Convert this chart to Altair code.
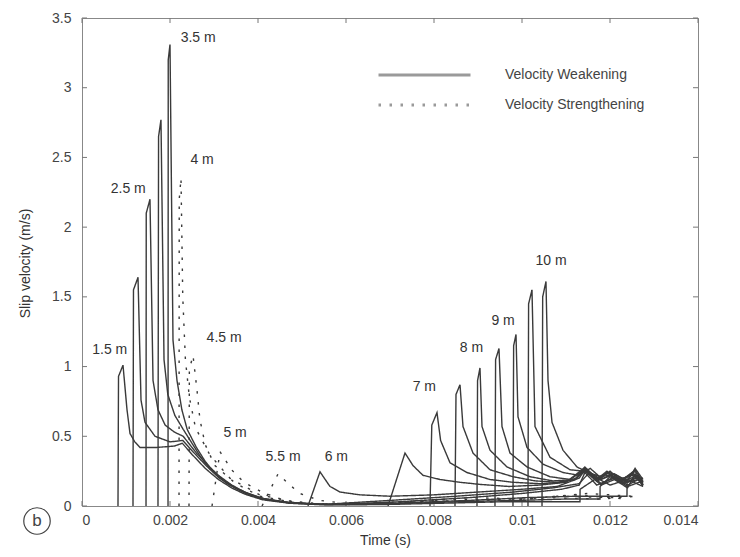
import altair as alt
import pandas as pd

# ---------------- data ----------------
X_TICKS = [0, 0.002, 0.004, 0.006, 0.008, 0.01, 0.012, 0.014]
Y_TICKS = [0, 0.5, 1, 1.5, 2, 2.5, 3, 3.5]

WEAK = "Velocity Weakening"
STRONG = "Velocity Strengthening"

# velocity-weakening curves (solid)
t_15 = [0.000818, 0.00083, 0.000932, 0.001023, 0.001091, 0.0012, 0.001318, 0.0017, 0.0021, 0.00228, 0.0025, 0.0028, 0.0031, 0.0034, 0.0037, 0.0041, 0.0047, 0.0055, 0.0068, 0.0082, 0.0095, 0.0106, 0.011318, 0.01132, 0.0117, 0.0120, 0.0124, 0.01275]
v_15 = [0, 0.93, 1.01, 0.69, 0.52, 0.46, 0.42, 0.42, 0.43, 0.45, 0.37, 0.27, 0.19, 0.13, 0.085, 0.045, 0.02, 0.008, 0.01, 0.02, 0.03, 0.03, 0.03, 0.12, 0.2, 0.15, 0.19, 0.14]

t_20 = [0.001159, 0.00117, 0.001273, 0.001341, 0.001432, 0.001659, 0.0020, 0.00229, 0.00252, 0.00282, 0.00312, 0.00342, 0.00372, 0.00412, 0.00472, 0.0056, 0.007, 0.0085, 0.0099, 0.011, 0.011773, 0.011775, 0.0120, 0.0123, 0.0126, 0.01275]
v_20 = [0, 1.55, 1.64, 0.76, 0.6, 0.5, 0.46, 0.47, 0.39, 0.29, 0.2, 0.14, 0.09, 0.05, 0.022, 0.01, 0.015, 0.03, 0.04, 0.05, 0.05, 0.14, 0.21, 0.16, 0.2, 0.15]

t_25 = [0.001455, 0.00146, 0.001545, 0.001614, 0.001727, 0.00189, 0.0021, 0.0023, 0.0026, 0.0029, 0.0031, 0.0034, 0.0037, 0.0041, 0.0047, 0.0055, 0.0071, 0.0088, 0.0101, 0.0112, 0.012386, 0.012388, 0.01275]
v_25 = [0, 2.1, 2.2, 0.9, 0.69, 0.58, 0.53, 0.5, 0.38, 0.28, 0.22, 0.15, 0.1, 0.055, 0.025, 0.012, 0.02, 0.04, 0.06, 0.07, 0.07, 0.17, 0.2]

t_30 = [0.001727, 0.00174, 0.001795, 0.001864, 0.00195, 0.00211, 0.0023, 0.0025, 0.0027, 0.0029, 0.0032, 0.0035, 0.0038, 0.0042, 0.0048, 0.0056, 0.0072, 0.0088, 0.0100, 0.0109, 0.0113, 0.01143, 0.0117, 0.0121, 0.0124, 0.01275]
v_30 = [0, 2.65, 2.77, 1.05, 0.8, 0.65, 0.55, 0.45, 0.35, 0.27, 0.19, 0.13, 0.085, 0.045, 0.02, 0.01, 0.03, 0.06, 0.09, 0.12, 0.15, 0.24, 0.15, 0.2, 0.14, 0.18]

t_35 = [0.001955, 0.00196, 0.002, 0.002068, 0.002159, 0.00227, 0.00239, 0.0026, 0.0028, 0.003, 0.0033, 0.0036, 0.004, 0.0046, 0.0055, 0.007, 0.0085, 0.0098, 0.0107, 0.0113, 0.0115, 0.0118, 0.0121, 0.0124, 0.01257, 0.01275]
v_35 = [0, 3.2, 3.31, 1.19, 0.9, 0.69, 0.55, 0.42, 0.32, 0.24, 0.16, 0.11, 0.06, 0.028, 0.012, 0.04, 0.07, 0.1, 0.13, 0.16, 0.23, 0.15, 0.19, 0.13, 0.23, 0.14]

t_60 = [0.005136, 0.005409, 0.005636, 0.005864, 0.006318, 0.007, 0.008, 0.009, 0.0100, 0.0108, 0.0113, 0.01143, 0.0118, 0.0121, 0.0124, 0.0127]
v_60 = [0, 0.245, 0.14, 0.1, 0.08, 0.07, 0.08, 0.1, 0.12, 0.14, 0.2, 0.26, 0.16, 0.21, 0.15, 0.2]

t_65 = [0.006955, 0.007341, 0.007523, 0.00775, 0.008136, 0.008591, 0.009045, 0.0097, 0.0104, 0.011, 0.0114, 0.0117, 0.0120, 0.0123, 0.0126, 0.01275]
v_65 = [0, 0.38, 0.29, 0.22, 0.19, 0.17, 0.155, 0.14, 0.15, 0.17, 0.27, 0.18, 0.25, 0.17, 0.22, 0.15]

t_70 = [0.007909, 0.00795, 0.008068, 0.00815, 0.008364, 0.00875, 0.009273, 0.0098, 0.0104, 0.0109, 0.01125, 0.01143, 0.0117, 0.0120, 0.0123, 0.01257, 0.01275]
v_70 = [0, 0.58, 0.67, 0.47, 0.31, 0.24, 0.19, 0.17, 0.16, 0.17, 0.2, 0.27, 0.18, 0.22, 0.16, 0.25, 0.15]

t_75 = [0.008477, 0.0085, 0.008591, 0.008659, 0.008886, 0.009273, 0.009795, 0.0103, 0.0108, 0.0112, 0.01145, 0.0118, 0.0121, 0.0124, 0.01265, 0.01275]
v_75 = [0, 0.8, 0.87, 0.57, 0.38, 0.26, 0.21, 0.18, 0.17, 0.19, 0.26, 0.19, 0.23, 0.17, 0.22, 0.16]

t_80 = [0.008977, 0.00899, 0.009045, 0.009091, 0.009273, 0.009659, 0.010182, 0.0107, 0.0112, 0.01143, 0.0117, 0.01193, 0.0122, 0.0125, 0.01275]
v_80 = [0, 0.9, 0.99, 0.57, 0.4, 0.28, 0.21, 0.18, 0.19, 0.28, 0.19, 0.25, 0.17, 0.24, 0.17]

t_85 = [0.009386, 0.0094, 0.009477, 0.009545, 0.009727, 0.010114, 0.010636, 0.0111, 0.01145, 0.0117, 0.0120, 0.0123, 0.01257, 0.01275]
v_85 = [0, 1.05, 1.13, 0.57, 0.38, 0.28, 0.21, 0.19, 0.27, 0.2, 0.24, 0.18, 0.26, 0.17]

t_90 = [0.009795, 0.00981, 0.009864, 0.009909, 0.010114, 0.010477, 0.010932, 0.0113, 0.01155, 0.0118, 0.01193, 0.0122, 0.0125, 0.01275]
v_90 = [0, 1.15, 1.23, 0.64, 0.42, 0.3, 0.24, 0.22, 0.27, 0.2, 0.24, 0.18, 0.23, 0.18]

t_95 = [0.010136, 0.01015, 0.010227, 0.010295, 0.010636, 0.011091, 0.0114, 0.0117, 0.01195, 0.0122, 0.0125, 0.01275]
v_95 = [0, 1.45, 1.55, 0.57, 0.35, 0.26, 0.25, 0.2, 0.24, 0.19, 0.22, 0.18]

t_100 = [0.010455, 0.01047, 0.010545, 0.010591, 0.010682, 0.010932, 0.01125, 0.0115, 0.0118, 0.0121, 0.0124, 0.01257, 0.01275]
v_100 = [0, 1.5, 1.61, 0.9, 0.6, 0.4, 0.28, 0.24, 0.21, 0.23, 0.18, 0.27, 0.19]

# velocity-strengthening curves (dotted)
t_40 = [0.002205, 0.00221, 0.00225, 0.00229, 0.00235, 0.00244, 0.00258, 0.0029, 0.00336, 0.00404, 0.00495, 0.006, 0.0075, 0.009, 0.0105, 0.0118, 0.0126]
v_40 = [0, 2.2, 2.35, 1.5, 1.05, 0.78, 0.56, 0.37, 0.2, 0.08, 0.02, 0.01, 0.03, 0.04, 0.06, 0.05, 0.07]

t_45 = [0.002432, 0.00244, 0.002523, 0.002614, 0.00268, 0.0028, 0.00302, 0.00348, 0.00404, 0.0049, 0.0062, 0.0078, 0.0093, 0.0108, 0.0122]
v_45 = [0, 0.98, 1.08, 0.83, 0.62, 0.44, 0.29, 0.165, 0.07, 0.02, 0.01, 0.04, 0.03, 0.07, 0.06]

t_50 = [0.002955, 0.003136, 0.0034, 0.00368, 0.00409, 0.0046, 0.0054, 0.0068, 0.0083, 0.0097, 0.0112, 0.0124]
v_50 = [0, 0.39, 0.26, 0.17, 0.1, 0.04, 0.015, 0.02, 0.05, 0.04, 0.08, 0.05]

t_55 = [0.004091, 0.004455, 0.004727, 0.00495, 0.0054, 0.0061, 0.0072, 0.0088, 0.0101, 0.0115, 0.0125]
v_55 = [0, 0.23, 0.15, 0.09, 0.04, 0.015, 0.02, 0.06, 0.05, 0.09, 0.07]

SERIES = [
    ("1.5 m", WEAK, t_15, v_15), ("2 m", WEAK, t_20, v_20), ("2.5 m", WEAK, t_25, v_25),
    ("3 m", WEAK, t_30, v_30), ("3.5 m", WEAK, t_35, v_35),
    ("4 m", STRONG, t_40, v_40), ("4.5 m", STRONG, t_45, v_45),
    ("5 m", STRONG, t_50, v_50), ("5.5 m", STRONG, t_55, v_55),
    ("6 m", WEAK, t_60, v_60), ("6.5 m", WEAK, t_65, v_65), ("7 m", WEAK, t_70, v_70),
    ("7.5 m", WEAK, t_75, v_75), ("8 m", WEAK, t_80, v_80), ("8.5 m", WEAK, t_85, v_85),
    ("9 m", WEAK, t_90, v_90), ("9.5 m", WEAK, t_95, v_95), ("10 m", WEAK, t_100, v_100),
]

LABELS = ["1.5 m", "2.5 m", "3.5 m", "4 m", "4.5 m", "5 m", "5.5 m", "6 m", "7 m", "8 m", "9 m", "10 m"]
LABEL_T = [0.00063, 0.00105, 0.00264, 0.00273, 0.00323, 0.00348, 0.00457, 0.00578, 0.00778, 0.00885, 0.00957, 0.01066]
LABEL_V = [1.12, 2.27, 3.36, 2.48, 1.205, 0.52, 0.35, 0.35, 0.85, 1.13, 1.33, 1.76]

# ---------------- tables ----------------
rows = []
for name, kind, ts, vs in SERIES:
    for i, (t, v) in enumerate(zip(ts, vs)):
        rows.append({"curve": name, "kind": kind, "t": t, "v": v, "o": i})
df = pd.DataFrame(rows)
lab = pd.DataFrame({"label": LABELS, "t": LABEL_T, "v": LABEL_V})
xt = pd.DataFrame({"t": X_TICKS})
yt = pd.DataFrame({"v": Y_TICKS})

W, H = 616, 488
FONT = "Liberation Sans"

X_ENC = alt.X("t:Q", scale=alt.Scale(domain=[0, 0.014], nice=False, zero=False),
              axis=alt.Axis(values=X_TICKS, format="~g", title="Time (s)", tickSize=0,
                            domain=False, grid=False, labelPadding=7, labelFontSize=14,
                            labelColor="#444", titleFontSize=14, titleFontWeight="normal",
                            titleColor="#333", titleX=303, titleY=34, titleBaseline="middle",
                            titleAlign="center"))
Y_ENC = alt.Y("v:Q", scale=alt.Scale(domain=[0, 3.5], nice=False),
              axis=alt.Axis(values=Y_TICKS, format="~g", title="Slip velocity (m/s)", tickSize=0,
                            domain=False, grid=False, labelPadding=11, labelFontSize=14,
                            labelColor="#444", titleFontSize=14, titleFontWeight="normal",
                            titleColor="#333", titleX=-57, titleY=245, titleAngle=270,
                            titleBaseline="middle", titleAlign="center"))

lines = alt.Chart(df).mark_line(color="#3a3a3a", strokeWidth=1.4, clip=True).encode(
    x=X_ENC, y=Y_ENC, detail="curve:N", order="o:Q",
    strokeDash=alt.StrokeDash(
        "kind:N",
        scale=alt.Scale(domain=[WEAK, STRONG], range=[[1, 0], [2.5, 8.5]]),
        legend=alt.Legend(title=None, orient="none", legendX=295, legendY=47,
                          symbolType="stroke", symbolSize=8464, symbolStrokeWidth=3,
                          symbolStrokeColor="#9a9a9a", clipHeight=20, rowPadding=10,
                          labelOffset=33, labelFontSize=14, labelColor="#444", padding=0),
    ),
)

text = alt.Chart(lab).mark_text(fontSize=14, color="#333", align="center", baseline="middle").encode(
    x=X_ENC, y=Y_ENC, text="label:N")

tick_b = alt.Chart(xt).mark_rule(color="#777").encode(x=X_ENC, y=alt.value(H), y2=alt.value(H - 5))
tick_t = alt.Chart(xt).mark_rule(color="#777").encode(x=X_ENC, y=alt.value(0), y2=alt.value(5))
tick_l = alt.Chart(yt).mark_rule(color="#777").encode(y=Y_ENC, x=alt.value(0), x2=alt.value(5))
tick_r = alt.Chart(yt).mark_rule(color="#777").encode(y=Y_ENC, x=alt.value(W), x2=alt.value(W - 5))

badge_df = pd.DataFrame({"s": ["b"]})
badge_c = alt.Chart(badge_df).mark_point(shape="circle", size=700, filled=False, color="#444",
                                         strokeWidth=1.2, opacity=1).encode(
    x=alt.value(-45), y=alt.value(503))
badge_t = alt.Chart(badge_df).mark_text(fontSize=17, color="#444", align="center",
                                        baseline="middle").encode(
    x=alt.value(-45), y=alt.value(503), text="s:N")

chart = alt.layer(tick_b, tick_t, tick_l, tick_r, lines, text, badge_c, badge_t).properties(
    width=W, height=H,
    autosize=alt.AutoSizeParams(type="none"),
    padding={"left": 74, "top": 10, "right": 34, "bottom": 43},
).configure(font=FONT).configure_view(stroke="#888", strokeWidth=1)

chart.save("out.html", embed_options={"renderer": "svg", "actions": False})
